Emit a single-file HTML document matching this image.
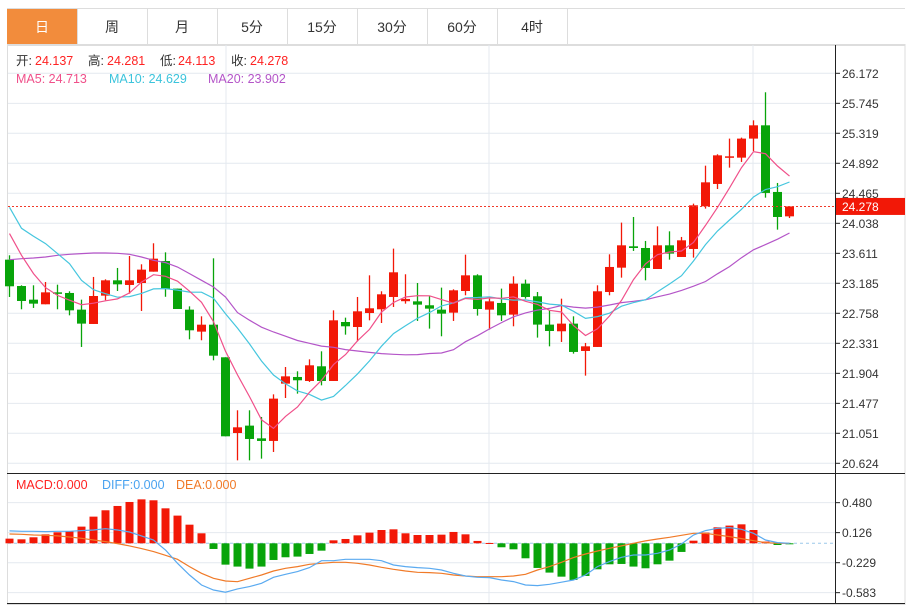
<!DOCTYPE html>
<html><head><meta charset="utf-8">
<style>
html,body{margin:0;padding:0;background:#fff;}
body{width:918px;height:606px;overflow:hidden;position:relative;font-family:"Liberation Sans","Noto Sans CJK SC",sans-serif;}
.tabs{position:absolute;left:7px;top:8px;height:36px;width:898px;border-top:1px solid #ddd;border-bottom:1px solid #ddd;}
.tab{position:absolute;top:0;height:36px;width:70px;border-right:1px solid #ddd;text-align:center;line-height:36px;font-size:14px;color:#333;}
.tab.on{background:#f28c3c;color:#fff;}
svg{position:absolute;left:0;top:0;}
</style></head><body>
<div class="tabs">
 <div class="tab on" style="left:0">日</div>
 <div class="tab" style="left:70px">周</div>
 <div class="tab" style="left:140px">月</div>
 <div class="tab" style="left:210px">5分</div>
 <div class="tab" style="left:280px">15分</div>
 <div class="tab" style="left:350px">30分</div>
 <div class="tab" style="left:420px">60分</div>
 <div class="tab" style="left:490px">4时</div>
</div>
<svg id="chart" width="918" height="606"></svg>
<script>
const opens=[23.521,23.146,22.952,22.886,23.056,23.047,22.810,22.606,23.009,23.227,23.161,23.189,23.350,23.502,23.109,22.810,22.497,22.596,22.132,21.055,21.160,20.979,20.942,21.757,21.852,21.795,22.004,21.795,22.634,22.563,22.762,22.815,22.990,22.930,22.928,22.872,22.810,22.767,23.075,23.298,22.810,22.905,22.739,23.180,23.000,22.597,22.502,22.611,22.222,22.279,23.061,23.407,23.711,23.687,23.388,23.725,23.559,23.673,24.280,24.598,24.982,24.972,25.243,25.432,24.484,24.137];
const closes=[23.142,22.933,22.895,23.056,23.037,22.800,22.611,23.004,23.227,23.170,23.227,23.379,23.535,23.109,22.819,22.516,22.596,22.155,21.008,21.136,20.970,20.942,21.544,21.861,21.805,22.018,21.795,22.658,22.573,22.786,22.829,23.028,23.341,22.962,22.881,22.824,22.753,23.085,23.298,22.819,22.928,22.729,23.180,22.990,22.597,22.506,22.611,22.208,22.288,23.071,23.417,23.725,23.687,23.403,23.725,23.607,23.796,24.294,24.621,25.005,24.991,25.243,25.432,24.470,24.128,24.278];
const highs=[23.583,23.156,23.156,23.203,23.165,23.071,22.952,23.275,23.241,23.403,23.573,23.455,23.754,23.625,23.109,22.857,22.715,23.540,22.132,21.378,21.378,21.283,21.605,21.994,21.933,22.103,22.217,22.800,22.696,22.990,23.298,23.071,23.678,23.313,23.189,23.000,23.123,23.099,23.592,23.313,22.966,23.109,23.284,23.237,23.061,22.800,22.966,22.715,22.336,23.156,23.597,24.048,24.128,23.787,23.995,23.924,23.844,24.318,24.858,25.020,25.243,25.257,25.503,25.902,24.612,24.281];
const lows=[22.990,22.815,22.834,22.886,22.815,22.729,22.279,22.606,22.943,23.075,23.037,22.791,23.350,22.993,22.819,22.388,22.374,22.089,21.008,20.666,20.666,20.690,20.785,21.553,21.615,21.781,21.733,21.795,22.454,22.359,22.658,22.620,22.848,22.895,22.649,22.540,22.431,22.649,23.014,22.725,22.525,22.649,22.573,22.966,22.412,22.288,22.350,22.184,21.871,22.279,23.014,23.265,23.645,23.227,23.388,23.521,23.559,23.550,24.247,24.526,24.830,24.911,25.067,24.403,23.948,24.113];
// MA values before a full window of visible closes exists
const ma5Head=[23.891,23.583,23.322,23.123];
const ma10Head=[24.266,23.967,23.853,23.749,23.607,23.464,23.227,23.094,23.037];
const ma20Head=[23.521,23.535,23.545,23.559,23.583,23.597,23.607,23.616,23.616,23.611,23.597,23.559,23.512,23.479,23.417,23.322,23.227,23.132,22.990];
const macdHist=[0.055,0.047,0.071,0.106,0.130,0.142,0.197,0.315,0.390,0.441,0.488,0.519,0.508,0.413,0.327,0.220,0.118,-0.067,-0.252,-0.275,-0.299,-0.275,-0.197,-0.165,-0.157,-0.126,-0.087,0.035,0.051,0.094,0.126,0.157,0.165,0.118,0.098,0.098,0.102,0.134,0.106,0.028,0.004,-0.047,-0.071,-0.177,-0.291,-0.346,-0.394,-0.433,-0.386,-0.307,-0.248,-0.244,-0.275,-0.295,-0.248,-0.205,-0.102,0.031,0.126,0.189,0.209,0.224,0.157,0.020,-0.020,-0.004];
const diffVals=[0.146,0.142,0.142,0.138,0.142,0.142,0.150,0.157,0.173,0.157,0.134,0.087,0.039,-0.079,-0.236,-0.374,-0.492,-0.551,-0.578,-0.539,-0.512,-0.472,-0.401,-0.366,-0.334,-0.287,-0.205,-0.205,-0.189,-0.189,-0.189,-0.205,-0.256,-0.275,-0.287,-0.295,-0.315,-0.354,-0.386,-0.401,-0.405,-0.433,-0.452,-0.492,-0.500,-0.484,-0.460,-0.433,-0.374,-0.275,-0.216,-0.165,-0.138,-0.138,-0.118,-0.079,-0.008,0.098,0.150,0.177,0.185,0.165,0.118,0.039,0.008,0.000];
const deaVals=[0.110,0.106,0.098,0.094,0.087,0.075,0.059,0.039,0.020,-0.004,-0.031,-0.063,-0.098,-0.142,-0.189,-0.275,-0.354,-0.413,-0.445,-0.453,-0.413,-0.374,-0.327,-0.295,-0.275,-0.248,-0.236,-0.224,-0.224,-0.236,-0.256,-0.283,-0.307,-0.327,-0.342,-0.346,-0.354,-0.374,-0.386,-0.394,-0.394,-0.394,-0.386,-0.366,-0.315,-0.275,-0.224,-0.169,-0.126,-0.091,-0.059,-0.031,0.000,0.028,0.051,0.071,0.094,0.118,0.118,0.098,0.079,0.055,0.031,0.008,0.000,0.000];
const priceTicks=["26.172","25.745","25.319","24.892","24.465","24.038","23.611","23.185","22.758","22.331","21.904","21.477","21.051","20.624"];
const macdTicks=["0.480","0.126","-0.229","-0.583"];

const NS="http://www.w3.org/2000/svg";
const svg=document.getElementById('chart');
function mk(tag,attrs,parent){const e=document.createElementNS(NS,tag);for(const k in attrs)e.setAttribute(k,attrs[k]);(parent||svg).appendChild(e);return e;}
const pMax=26.172,pMin=20.624,yTop=73.3,yBot=463.3;
function yP(p){return yTop+(pMax-p)/(pMax-pMin)*(yBot-yTop);}
function xI(i){return 9.5+12*i;}
const mZero=543.3,mScale=(593-503)/(0.480+0.583);
function yM(v){return mZero-v*mScale;}

mk('rect',{x:7.5,y:44.5,width:897.5,height:560,fill:'none',stroke:'#ddd'});
for(const t of priceTicks){const y=yP(parseFloat(t));mk('line',{x1:8,x2:835,y1:y,y2:y,stroke:'#e4e9ef'});}
for(const v of macdTicks){const y=yM(parseFloat(v));mk('line',{x1:8,x2:835,y1:y,y2:y,stroke:'#e4e9ef'});}
for(const x of [226,489,753]){mk('line',{x1:x,x2:x,y1:45,y2:604,stroke:'#e4e9ef'});}
mk('line',{x1:7,x2:905,y1:473.5,y2:473.5,stroke:'#222'});
mk('line',{x1:7,x2:905,y1:603.5,y2:603.5,stroke:'#222'});
mk('line',{x1:835.5,x2:835.5,y1:45,y2:604,stroke:'#222'});

const ax=mk('g',{});


for(const t of priceTicks){const y=yP(parseFloat(t));
 mk('line',{x1:835,x2:840,y1:y,y2:y,stroke:'#222'},ax);
 const tx=mk('text',{x:842,y:y+4.5,'font-size':12,fill:'#333'},ax);tx.textContent=t;}
const mx=mk('g',{});


for(const t of macdTicks){const y=yM(parseFloat(t));
 mk('line',{x1:835,x2:840,y1:y,y2:y,stroke:'#222'},mx);
 const tx=mk('text',{x:842,y:y+4.5,'font-size':12,fill:'#333'},mx);tx.textContent=t;}

const cg=mk('g',{});


for(let i=0;i<closes.length;i++){
 const up=closes[i]>=opens[i];const col=up?'#f21807':'#08a40a';
 const x=xI(i);
 const g=mk('g',{},cg);
 
 
 mk('line',{x1:x,x2:x,y1:yP(highs[i]),y2:yP(lows[i]),stroke:col,'stroke-width':1.3},g);
 const yt=yP(Math.max(opens[i],closes[i])),yb=yP(Math.min(opens[i],closes[i]));
 mk('rect',{x:x-4.5,y:yt,width:9,height:Math.max(1.5,yb-yt),fill:col},g);
}
function ma(n,head){return closes.map((c,i)=>{if(i<head.length)return head[i];let t=0;for(let j=i-n+1;j<=i;j++)t+=closes[j];return t/n;});}
function poly(vals,col,name,yf){const pts=vals.map((v,i)=>xI(i)+','+yf(v).toFixed(1)).join(' ');
 const p=mk('polyline',{points:pts,fill:'none',stroke:col,'stroke-width':1.2});
 
 }
poly(ma(20,ma20Head),'#b455c8','ma20-line',yP);
poly(ma(10,ma10Head),'#45c6de','ma10-line',yP);
poly(ma(5,ma5Head),'#f0508a','ma5-line',yP);

const last=closes[closes.length-1];
const cy=yP(last);
mk('line',{x1:8,x2:835,y1:cy,y2:cy,stroke:'#f03a2a','stroke-dasharray':'2,2'});
const lb=mk('rect',{x:836,y:cy-8.5,width:69,height:17,fill:'#f21807'});


const lt=mk('text',{x:842,y:cy+4.5,'font-size':12,fill:'#fff'});lt.textContent=last.toFixed(3);

mk('line',{x1:8,x2:835,y1:mZero,y2:mZero,stroke:'#9cc8ea','stroke-dasharray':'3,3'});
const hg=mk('g',{});


for(let i=0;i<macdHist.length;i++){const v=macdHist[i];const y=yM(v);
 const r=mk('rect',{x:xI(i)-4,y:Math.min(y,mZero),width:8,height:Math.max(1,Math.abs(y-mZero)),fill:v>=0?'#f21807':'#08a40a'},hg);
 
 }
poly(deaVals,'#f07a28','dea-line',yM);
poly(diffVals,'#5aaaf0','diff-line',yM);

function txt(x,y,s,col,name){const t=mk('text',{x:x,y:y,'font-size':12.5,fill:col});t.textContent=s;
 
 return t;}
txt(16,65,'开:','#333','open-label');txt(35,65,'24.137','#f22','open-value');
txt(88,65,'高:','#333','high-label');txt(107,65,'24.281','#f22','high-value');
txt(160,65,'低:','#333','low-label');txt(178,65,'24.113','#f22','low-value');
txt(231,65,'收:','#333','close-label');txt(250,65,'24.278','#f22','close-value');
txt(16,83,'MA5: 24.713','#f0508a','ma5-legend');
txt(109,83,'MA10: 24.629','#3cc4dc','ma10-legend');
txt(208,83,'MA20: 23.902','#b455c8','ma20-legend');
txt(16,489,'MACD:0.000','#f22','macd-legend');
txt(102,489,'DIFF:0.000','#4aa3f0','diff-legend');
txt(176,489,'DEA:0.000','#f07a28','dea-legend');
</script>
</body></html>
